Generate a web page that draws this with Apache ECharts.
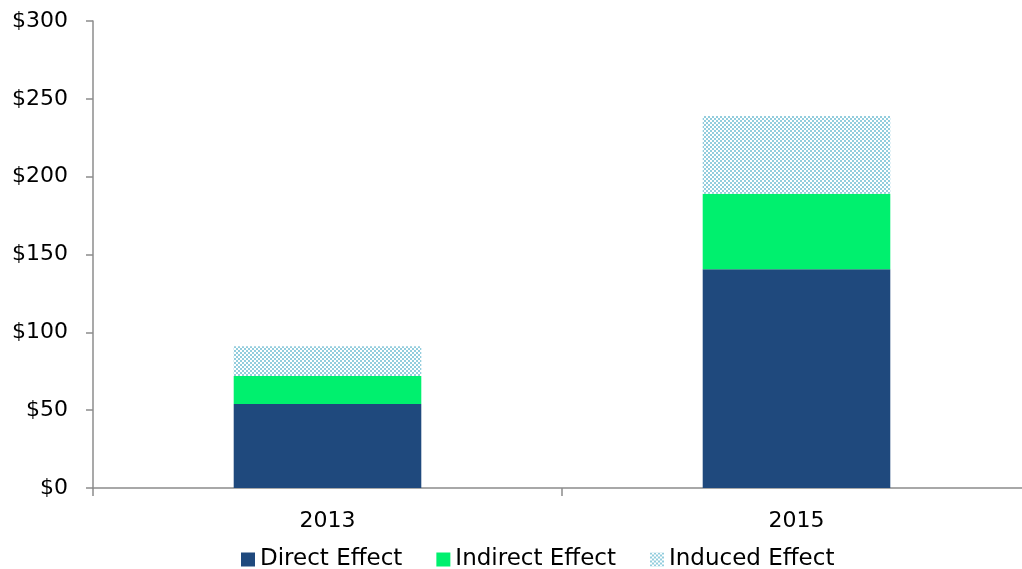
<!DOCTYPE html>
<html>
<head>
<meta charset="utf-8">
<script src="https://cdn.jsdelivr.net/npm/echarts@6/dist/echarts.min.js"></script>
<style>
  html, body { margin: 0; padding: 0; background: #fff; }
  #chart { width: 1022px; height: 569px; }
</style>
</head>
<body>
<div id="chart"></div>
<script>
// Economic impact by year, in $ (stacked)
const years = ['2013', '2015'];
const directEffect = [54, 140.5];
const indirectEffect = [18, 48.5];
const inducedEffect = [19, 50];
const yTicks = [0, 50, 100, 150, 200, 250, 300];

// Dotted checkerboard fill for the induced series
function makePattern() {
  const c = document.createElement('canvas');
  c.width = 4; c.height = 4;
  const g = c.getContext('2d');
  g.fillStyle = '#ffffff';
  g.fillRect(0, 0, 4, 4);
  g.fillStyle = '#93cddd';
  g.fillRect(0, 0, 2, 2);
  g.fillRect(2, 2, 2, 2);
  g.fillRect(1, 0, 1, 1);
  return c;
}
const inducedFill = { image: makePattern(), repeat: 'repeat' };

const axisColor = '#8c8c8c';
const font = '"DejaVu Sans", sans-serif';

const chart = echarts.init(document.getElementById('chart'));
chart.setOption({
  animation: false,
  // plot area runs slightly past the right edge of the canvas
  grid: {
    left: 93, top: 21, width: 938, height: 467,
    containLabel: false, outerBoundsMode: 'none'
  },
  legend: {
    top: 543,
    left: 236,
    itemWidth: 14,
    itemHeight: 14,
    itemGap: 34,
    icon: 'rect',
    textStyle: { fontFamily: font, fontSize: 23, color: '#000' },
    data: ['Direct Effect', 'Indirect Effect', 'Induced Effect']
  },
  xAxis: {
    type: 'category',
    data: years,
    axisLine: { lineStyle: { color: axisColor, width: 1.5 } },
    axisTick: { show: true, length: 8, lineStyle: { color: axisColor, width: 1.5 } },
    axisLabel: { fontFamily: font, fontSize: 22, color: '#000', margin: 22 }
  },
  yAxis: {
    type: 'value',
    min: yTicks[0],
    max: yTicks[yTicks.length - 1],
    interval: 50,
    axisLine: { show: true, lineStyle: { color: axisColor, width: 1.5 } },
    axisTick: { show: true, length: 7, lineStyle: { color: axisColor, width: 1.5 } },
    splitLine: { show: false },
    axisLabel: {
      fontFamily: font, fontSize: 22, color: '#000', margin: 25,
      formatter: v => '$' + v
    }
  },
  series: [
    {
      name: 'Direct Effect', type: 'bar', stack: 'total', barWidth: '40%',
      itemStyle: { color: '#1f497d' }, data: directEffect
    },
    {
      name: 'Indirect Effect', type: 'bar', stack: 'total',
      itemStyle: { color: '#00f06e' }, data: indirectEffect
    },
    {
      name: 'Induced Effect', type: 'bar', stack: 'total',
      itemStyle: { color: inducedFill }, data: inducedEffect
    }
  ]
});
</script>
</body>
</html>
